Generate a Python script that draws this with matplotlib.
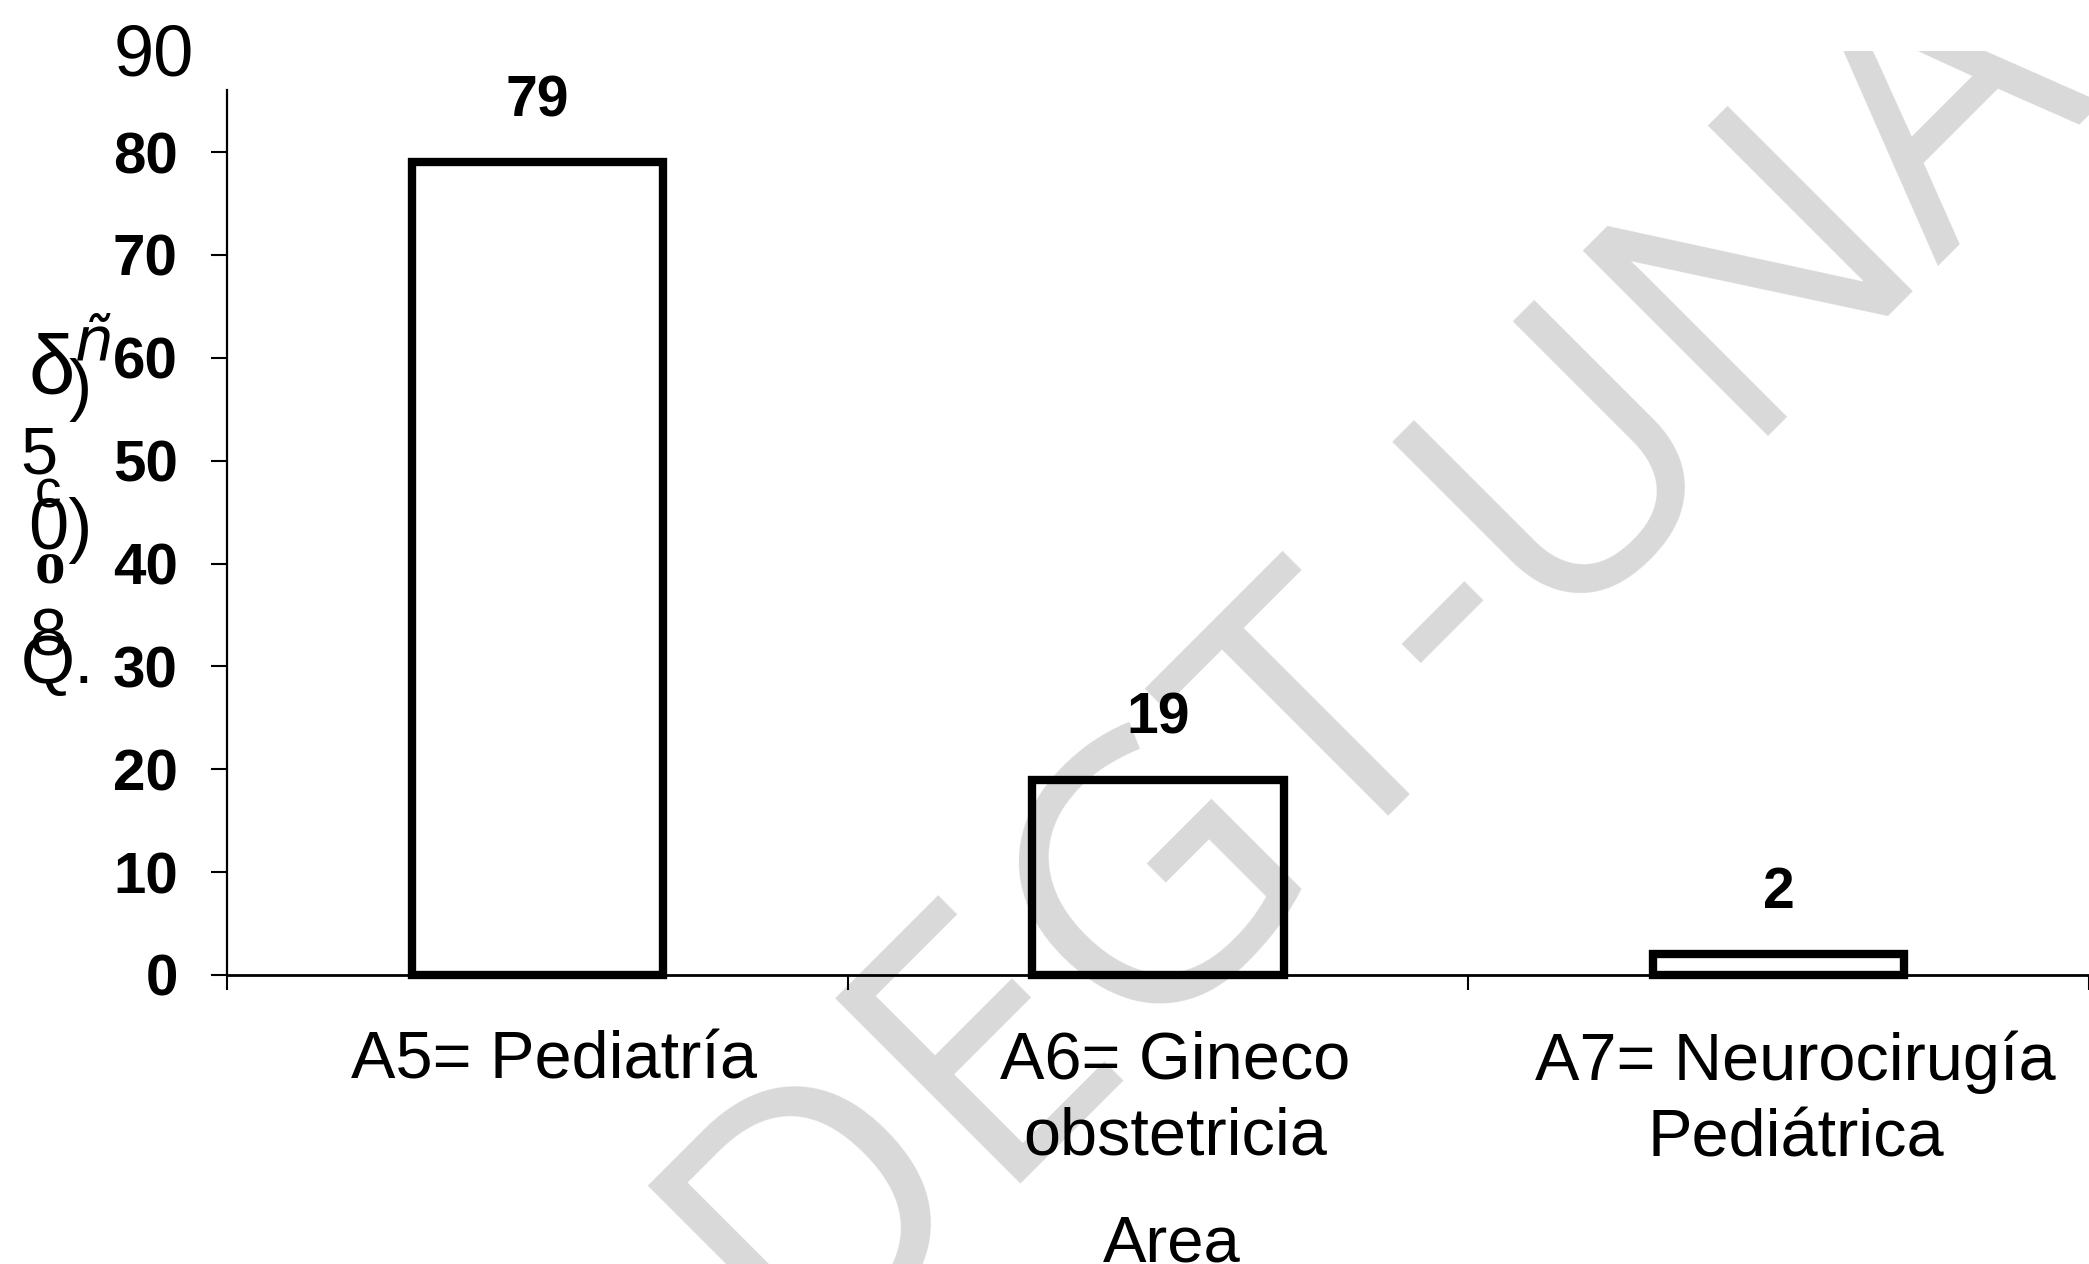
import matplotlib
matplotlib.use("Agg")
import matplotlib.pyplot as plt
from matplotlib.patches import Rectangle
from matplotlib.transforms import ScaledTranslation
import numpy as np

# ---- data ----
categories = ['A5= Pediatría', 'A6= Gineco\nobstetricia', 'A7= Neurocirugía\nPediátrica']
values = [79, 19, 2]
y_ticks = [0, 10, 20, 30, 40, 50, 60, 70, 80, 90]
x_label = 'Area'
watermark = 'DEGT-UNAN'
# garbled (OCR) y-axis label fragments as they appear in the source
ylabel_bits = [('δ', 'normal', 'normal', 'Liberation Sans', 60, (52, 372)),
               ('ñ', 'italic', 'normal', 'DejaVu Sans', 44, (94, 343)),
               (')', 'normal', 'normal', 'Liberation Sans', 50, (80, 390)),
               ('5', 'normal', 'normal', 'Liberation Sans', 48, (39, 457)),
               ('c', 'normal', 'normal', 'Liberation Sans', 38, (48, 494)),
               ('0)', 'normal', 'normal', 'Liberation Sans', 52, (60, 530)),
               ('o', 'normal', 'bold', 'Liberation Serif', 44, (50, 568)),
               ('8', 'normal', 'normal', 'Liberation Sans', 48, (48, 638)),
               ('Q.', 'normal', 'normal', 'Liberation Sans', 50, (58, 665))]

plt.rcParams['font.family'] = ['Liberation Sans', 'DejaVu Sans']

W, H = 2089, 1264
def fx(px):
    return px / W
def fy(py):
    return 1 - py / H

fig = plt.figure(figsize=(W / 100, H / 100), dpi=100)
fig.patch.set_facecolor('white')

# watermark behind everything
wm = fig.text(fx(1542), fy(626), watermark, rotation=45, rotation_mode='anchor',
              ha='center', va='baseline', fontsize=264, color='#d9d9d9',
              family='Open Sans', zorder=-2)
fig.patches.append(Rectangle((0, fy(51)), 1, 1 - fy(51), transform=fig.transFigure,
                             facecolor='white', edgecolor='none', zorder=-1))

ax = fig.add_axes([fx(227), fy(975), (W - 227) / W, (975 - 39) / H])
ax.patch.set_visible(False)

x = np.arange(len(categories))
ax.bar(x, values, width=0.405, facecolor='none', edgecolor='black',
       linewidth=6, zorder=3, clip_on=False)

for xi, v in zip(x, values):
    ax.annotate(str(v), xy=(xi, v), xytext=(0, 44), textcoords='offset points',
                ha='center', va='center', fontsize=41, fontweight='bold')

ax.set_xlim(-0.5, 2.425)
ax.set_ylim(0, 91)

for s in ['top', 'right']:
    ax.spines[s].set_visible(False)
ax.spines['left'].set_bounds(0, 86)
ax.spines['left'].set_linewidth(1.6)
ax.spines['bottom'].set_linewidth(2.0)

ax.set_yticks(y_ticks)
ax.set_yticklabels([str(t) for t in y_ticks])
ax.tick_params(axis='y', direction='out', length=11.5, width=1.5, pad=24,
               labelsize=42)
for lab in ax.get_yticklabels():
    lab.set_fontweight('bold')

ax.set_xticks(x)
ax.set_xticks([-0.5, 0.5, 1.5, 2.5], minor=True)
ax.set_xticklabels(categories, fontsize=48, linespacing=1.3)
ax.tick_params(axis='x', which='major', length=0, pad=40)
ax.tick_params(axis='x', which='minor', direction='out', length=11, width=1.5)

ax.set_xlabel(x_label, fontsize=47, va='baseline')
ax.xaxis.set_label_coords((1172 - 227) / (W - 227), (975 - 1262) / (975 - 39))

# styling of the top "90" label (no tick mark, regular weight, larger)
yt = ax.yaxis.get_major_ticks()
yt[-1].tick1line.set_visible(False)
lab90 = yt[-1].label1
lab90.set_fontweight('normal')
lab90.set_fontsize(52)
lab90.set_transform(lab90.get_transform() + ScaledTranslation(0.16, 0, fig.dpi_scale_trans))

for lab in ax.get_xticklabels():
    lab.set_transform(lab.get_transform() + ScaledTranslation(0.17, 0, fig.dpi_scale_trans))

for txt, style, weight, fam, size, (px, py) in ylabel_bits:
    fig.text(fx(px), fy(py), txt, ha='center', va='center', fontsize=size,
             fontstyle=style, fontweight=weight, family=[fam, 'DejaVu Sans'])

fig.savefig('out.png', dpi=100, facecolor='white')
